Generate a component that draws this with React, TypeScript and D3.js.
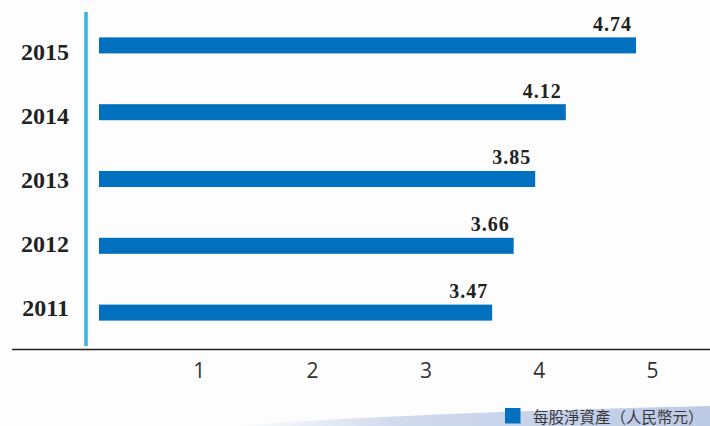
import React from "react";
import * as d3 from "d3";

const years = ["2015", "2014", "2013", "2012", "2011"];
const values = [4.74, 4.12, 3.85, 3.66, 3.47];
const valueLabels = ["4.74", "4.12", "3.85", "3.66", "3.47"];
const tickValues = [1, 2, 3, 4, 5];
const legendLabel = "每股淨資產（人民幣元）";

const W = 710;
const H = 426;

export default function App() {
  const x = d3.scaleLinear().domain([0, 5]).range([86, 652.5]);
  const y = d3
    .scaleBand<string>()
    .domain(years)
    .range([12, 346])
    .paddingInner(0.76)
    .paddingOuter(0.38);
  const yLabel = d3.scalePoint<string>().domain(years).range([60, 316]);
  const barOffset = 13;

  const swoosh = d3.path();
  swoosh.moveTo(230, H);
  swoosh.quadraticCurveTo(410, 413, W, 406);
  swoosh.lineTo(W, H);
  swoosh.closePath();

  return (
    <svg
      width={W}
      height={H}
      style={{ position: "absolute", left: 0, top: 0, background: "#fdfdfd" }}
    >
      <defs>
        <linearGradient id="sw" x1="230" x2="710" y1="0" y2="0" gradientUnits="userSpaceOnUse">
          <stop offset="0" stopColor="#ffffff" />
          <stop offset="0.35" stopColor="#d0daed" />
          <stop offset="1" stopColor="#bccae6" />
        </linearGradient>
      </defs>
      <path d={swoosh.toString()} fill="url(#sw)" />

      {/* vertical axis line */}
      <line x1={x(0)} x2={x(0)} y1={y.range()[0]} y2={y.range()[1]} stroke="#3bb4e7" strokeWidth={3.6} />

      {/* horizontal axis line */}
      <line x1={12} x2={W} y1={349.5} y2={349.5} stroke="#222" strokeWidth={1.3} />

      {years.map((yr, i) => (
        <g key={yr}>
          <rect
            x={x(0) + barOffset}
            y={y(yr)}
            width={x(values[i]) - x(0)}
            height={y.bandwidth()}
            fill="#0070bf"
          />
          <text
            x={x(values[i]) + barOffset - 4}
            y={(y(yr) as number) - 6.5}
            textAnchor="end"
            fontFamily="'Liberation Serif', serif"
            fontWeight="bold"
            fontSize={20}
            letterSpacing={1}
            fill="#222"
          >
            {valueLabels[i]}
          </text>
          <text
            x={69}
            y={yLabel(yr)}
            textAnchor="end"
            fontFamily="'Liberation Serif', serif"
            fontWeight="bold"
            fontSize={24}
            fill="#222"
          >
            {yr}
          </text>
        </g>
      ))}

      {tickValues.map((t) => (
        <text
          key={t}
          x={x(t)}
          y={378.3}
          textAnchor="middle"
          fontFamily="'Open Sans', sans-serif"
          fontWeight={400}
          fontSize={21}
          fill="#333"
        >
          {t}
        </text>
      ))}

      <rect x={505} y={408} width={15.5} height={15.5} fill="#0070bf" />
      <text
        x={533}
        y={416}
        dominantBaseline="central"
        fontFamily="'Noto Sans CJK TC', sans-serif"
        fontWeight={400}
        fontSize={15.5}
        fill="#3a3a3a"
      >
        {legendLabel}
      </text>
    </svg>
  );
}
